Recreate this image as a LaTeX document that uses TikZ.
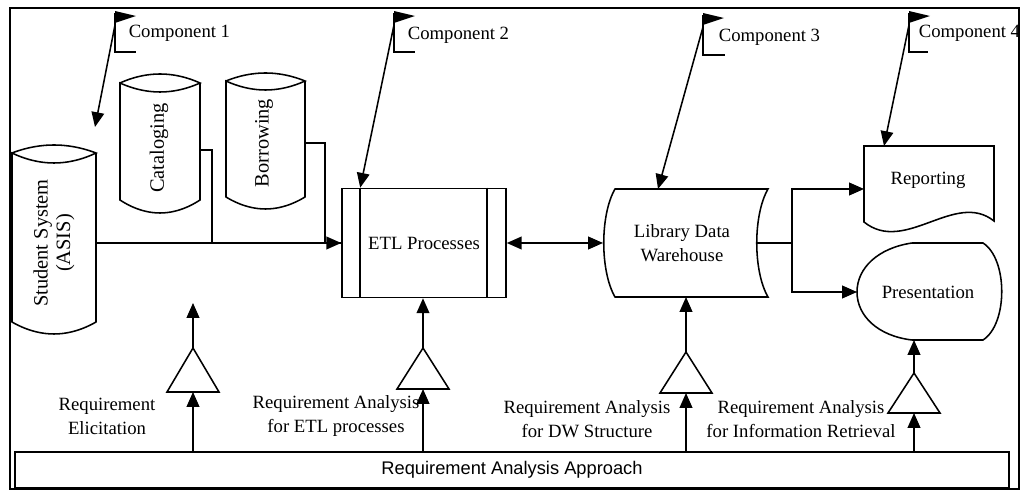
\documentclass[tikz,border=0pt]{standalone}
\usepackage{fontspec}
\setmainfont{Liberation Serif}
\newfontfamily\arialfont{Liberation Sans}
\usetikzlibrary{arrows.meta}
\begin{document}
\begin{tikzpicture}[x=0.025cm,y=-0.025cm,line width=1.1pt,
    flow/.style={-{Triangle[length=10.5pt,width=9pt]}},
    both/.style={{Triangle[length=10.5pt,width=9pt]}-{Triangle[length=10.5pt,width=9pt]}},
    txt/.style={inner sep=0pt,align=center,font=\fontsize{13.3}{17}\selectfont},
    dbtxt/.style={txt,rotate=90,font=\fontsize{14.5}{16}\selectfont}]
\useasboundingbox (0,0) rectangle (1021,490);
\draw[line width=1.4pt] (10,8) rectangle (1019,489);

% source systems
\draw (12,153) parabola bend (54,145) (96,153) parabola bend (54,163) (12,153)
  -- (12,322) parabola bend (54,334) (96,322) -- (96,153);
\node[dbtxt] (asis) at (54,243) {Student System\\(ASIS)};
\draw (120,83) parabola bend (160,74) (200,83) parabola bend (160,92) (120,83)
  -- (120,200) parabola bend (160,213) (200,200) -- (200,83);
\node[dbtxt] (catalog) at (159,148) {Cataloging};
\draw (226,81) parabola bend (265.5,73) (305,81) parabola bend (265.5,90) (226,81)
  -- (226,197) parabola bend (265.5,209) (305,197) -- (305,81);
\node[dbtxt] (borrow) at (264,143) {Borrowing};
\coordinate (asis-out) at (96,243);
\coordinate (catalog-out) at (200,150);
\coordinate (borrow-out) at (305,143);
\coordinate (asis-mark) at (95,127);

% etl
\node[draw,txt,minimum width=4.1cm,minimum height=2.725cm] (etl) at (424,243) {ETL Processes};
\draw ([xshift=0.475cm]etl.north west) -- ([xshift=0.475cm]etl.south west);
\draw ([xshift=-0.5cm]etl.north east) -- ([xshift=-0.5cm]etl.south east);
\draw[flow] (asis-out) -- (etl.west);
\draw (catalog-out) -- ++(12,0) |- (etl.west);
\draw (borrow-out) -- ++(20,0) |- (etl.west);

% warehouse
\draw (615,189) -- (768,189) .. controls (753,215) and (753,271) .. (768,297)
  -- (615,297) .. controls (600,271) and (600,215) .. (615,189) -- cycle;
\node[txt] (ldw) at (682,243) {Library Data\\Warehouse};
\coordinate (ldw-in) at (603,243);
\coordinate (ldw-out) at (757,243);
\coordinate (ldw-top) at (658,189);
\draw[both] (etl.east) -- (ldw-in);

% outputs
\draw (864,146) -- (994,146) -- (994,221) .. controls (955,190) and (905,255) .. (864,222) -- cycle;
\node[txt] (report) at (928,180) {Reporting};
\coordinate (report-in) at (864,189);
\coordinate (report-top) at (884,146);
\draw (912,243) -- (983,243) .. controls (1008,259) and (1008,324) .. (983,340)
  -- (912,340) .. controls (878,336) and (857,316) .. (857,292)
  .. controls (857,268) and (878,248) .. (912,243) -- cycle;
\node[txt] (present) at (928,292) {Presentation};
\coordinate (present-in) at (857,292);
\coordinate (split) at (792,243);
\draw[line width=1.6pt] (ldw-out) -- (split);
\draw[flow] (split) |- (report-in);
\draw[flow] (split) |- (present-in);

% components
\draw (115,13) -- (115,52) -- (136,52);
\fill (115,11) -- (136,16) -- (115,23) -- cycle;
\node[txt,anchor=west] (comp1) at (128,33) {Component 1};
\coordinate (c1) at (115,25);
\draw[flow] (c1) -- (asis-mark);

\draw (394,13) -- (394,52) -- (415,52);
\fill (394,11) -- (415,16) -- (394,23) -- cycle;
\node[txt,anchor=west] (comp2) at (407,35) {Component 2};
\coordinate (c2) at (394,25);
\draw[flow] (c2) -- ([xshift=0.475cm]etl.north west);

\draw (703,15) -- (703,55) -- (725,55);
\fill (703,13) -- (724,18) -- (703,25) -- cycle;
\node[txt,anchor=west] (comp3) at (718,37) {Component 3};
\coordinate (c3) at (703,27);
\draw[flow] (c3) -- (ldw-top);

\draw (909,13) -- (909,52) -- (928,52);
\fill (909,11) -- (930,16) -- (909,23) -- cycle;
\node[txt,anchor=west] (comp4) at (918,33) {Component 4};
\coordinate (c4) at (909,25);
\draw[flow] (c4) -- (report-top);

% requirement analysis
\node[draw,inner sep=0pt,minimum width=24.85cm,minimum height=0.9cm,
  font=\arialfont\fontsize{13}{15}\selectfont] (approach) at (512,470) {Requirement Analysis Approach};

\coordinate (t1) at (193,348);
\draw (t1) -- ++(26,44) -- ++(-52,0) -- cycle;
\coordinate (t1-base) at (193,392);
\coordinate (t1-up) at (193,303);
\draw[flow] (t1) -- (t1-up);
\draw[flow] (approach.north -| t1) -- (t1-base);
\node[txt] (elicit) at (107,416) {Requirement\\Elicitation};

\coordinate (t2) at (423,348);
\draw (t2) -- ++(26,41) -- ++(-52,0) -- cycle;
\coordinate (t2-base) at (423,389);
\draw[flow] (t2) -- (etl.south -| t2);
\draw[flow] (approach.north -| t2) -- (t2-base);
\node[txt] (etlreq) at (336,416) {Requirement Analysis\\for ETL processes};

\coordinate (t3) at (686,352);
\draw (t3) -- ++(26,41) -- ++(-52,0) -- cycle;
\coordinate (t3-base) at (686,393);
\coordinate (ldw-bot) at (686,297);
\draw[flow] (t3) -- (ldw-bot);
\draw[flow] (approach.north -| t3) -- (t3-base);
\node[txt] (dwreq) at (587,419) {Requirement Analysis\\for DW Structure};

\coordinate (t4) at (914,373);
\draw (t4) -- ++(26,40) -- ++(-52,0) -- cycle;
\coordinate (t4-base) at (914,413);
\coordinate (present-bot) at (914,340);
\draw[flow] (t4) -- (present-bot);
\draw[flow] (approach.north -| t4) -- (t4-base);
\node[txt] (irreq) at (801,419) {Requirement Analysis\\for Information Retrieval};
\end{tikzpicture}
\end{document}
